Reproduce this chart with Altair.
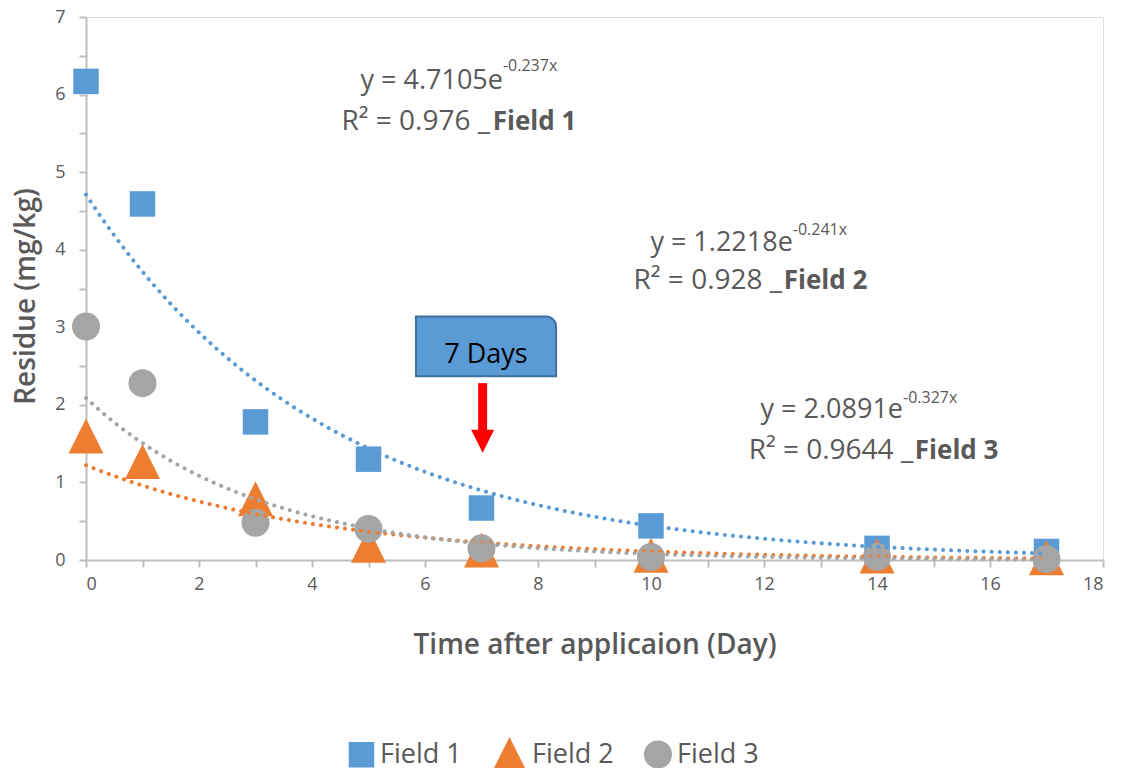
import altair as alt
import pandas as pd

# ---------------- data ----------------
days = [0, 1, 3, 5, 7, 10, 14, 17]
field1 = [6.17, 4.59, 1.78, 1.30, 0.67, 0.44, 0.15, 0.11]
field2 = [1.60, 1.27, 0.79, 0.19, 0.13, 0.06, 0.05, 0.03]
field3 = [3.01, 2.28, 0.48, 0.40, 0.15, 0.04, 0.04, 0.01]
fields = ["Field 1", "Field 2", "Field 3"]
colors = ["#5B9BD5", "#ED7D31", "#A5A5A5"]

# exponential trend lines as printed on the chart: y = a * e^(b x)
fit_a = [4.7105, 1.2218, 2.0891]
fit_b = [-0.237, -0.241, -0.327]
fit_r2 = ["0.976", "0.928", "0.9644"]
fit_a_txt = ["4.7105", "1.2218", "2.0891"]
fit_b_txt = ["-0.237x", "-0.241x", "-0.327x"]

# annotation anchors (data units)
eq_e_end_x = [7.38, 12.51, 14.46]
eq_line1_y = [6.07, 3.98, 1.83]
eq_exp_y = [6.30, 4.19, 2.02]
eq_line2_y = [5.54, 3.49, 1.30]
eq_us_end_x = [7.15, 12.32, 14.64]
eq_field_x = [7.20, 12.35, 14.67]

box_x = [5.84, 8.32]
box_y = [2.37, 3.14]
box_label = "7 Days"
box_label_pos = [7.08, 2.54]
arrow_x = 7.02
arrow_shaft_y = [2.28, 1.64]
arrow_head_y = 1.53

# ---------------- tables ----------------
series = {"Field 1": field1, "Field 2": field2, "Field 3": field3}
pts = pd.DataFrame(
    [{"day": d, "res": v, "field": f} for f in fields for d, v in zip(days, series[f])]
)
coef = pd.DataFrame({"field": fields, "a": fit_a, "b": fit_b})
ann = pd.DataFrame({
    "field": fields,
    "main": ["y = " + t + "e" for t in fit_a_txt],
    "expo": fit_b_txt,
    "line2": ["R\u00b2 = " + r + " _" for r in fit_r2],
    "ex": eq_e_end_x, "y1": eq_line1_y, "ye": eq_exp_y, "y2": eq_line2_y,
    "ux": eq_us_end_x, "fx": eq_field_x,
})

FONT = "Open Sans"
GRAY_TXT = "#595959"
AXIS_GRAY = "#BFBFBF"

xscale = alt.Scale(domain=[0, 18], nice=False, zero=False)
yscale = alt.Scale(domain=[0, 7], nice=False, zero=False)

xaxis = alt.Axis(
    title="Time after applicaion (Day)",
    values=list(range(0, 19)),
    labelExpr="datum.value % 2 === 0 ? datum.label : ''",
    format="~g",
    grid=False, domainColor=AXIS_GRAY, domainWidth=2,
    tickColor=AXIS_GRAY, tickWidth=2, tickSize=7, labelPadding=8,
    labelFontSize=18, labelColor=GRAY_TXT, labelFont=FONT,
    titleFontSize=28, titleFontWeight=600, titleColor=GRAY_TXT, titleFont=FONT,
    titleY=93, titleBaseline="alphabetic",
)
yaxis = alt.Axis(
    title="Residue (mg/kg)",
    values=[i * 0.5 for i in range(15)],
    labelExpr="datum.value % 1 === 0 ? datum.label : ''",
    format="~g",
    grid=False, domainColor=AXIS_GRAY, domainWidth=2,
    tickColor=AXIS_GRAY, tickWidth=2, tickSize=7, labelPadding=14,
    labelFontSize=18, labelColor=GRAY_TXT, labelFont=FONT,
    titleFontSize=28, titleFontWeight=600, titleColor=GRAY_TXT, titleFont=FONT,
    titleX=-52, titleY=279, titleBaseline="alphabetic", titleAngle=270,
)

def X(f):
    return alt.X(f, type="quantitative", scale=xscale, axis=xaxis)

def Y(f):
    return alt.Y(f, type="quantitative", scale=yscale, axis=yaxis)

tri_up = "M0,-1L1,1L-1,1Z"

leg = alt.Legend(
    title=None, orient="none", direction="horizontal",
    legendX=262, legendY=720, symbolSize=650,
    symbolStrokeWidth=0, symbolOpacity=1,
    labelFontSize=27, labelColor=GRAY_TXT, labelFont=FONT,
    labelOffset=5, columnPadding=30, padding=0,
)

points = alt.Chart(pts).mark_point(filled=True, opacity=1, strokeWidth=0).encode(
    x=X("day"),
    y=Y("res"),
    color=alt.Color("field:N", scale=alt.Scale(domain=fields, range=colors), legend=leg),
    shape=alt.Shape("field:N", scale=alt.Scale(domain=fields,
                    range=["square", tri_up, "circle"]), legend=leg),
    size=alt.Size("field:N", scale=alt.Scale(type="ordinal", domain=fields,
                  range=[650, 1225, 784]), legend=None),
)

trend = alt.Chart(coef).transform_calculate(
    xs="sequence(0, 17.001, 0.1)"
).transform_flatten(["xs"]).transform_calculate(
    yv="datum.a * exp(datum.b * datum.xs)"
).mark_line(strokeWidth=4, strokeDash=[0.1, 8], strokeCap="round").encode(
    x=X("xs"),
    y=Y("yv"),
    color=alt.Color("field:N", scale=alt.Scale(domain=fields, range=colors), legend=None),
    detail="field:N",
)

base_ann = alt.Chart(ann)
t_main = base_ann.mark_text(align="right", baseline="alphabetic", fontSize=27,
                            font=FONT, color=GRAY_TXT).encode(
    x=X("ex"), y=Y("y1"), text="main:N")
t_exp = base_ann.mark_text(align="left", baseline="alphabetic", fontSize=16,
                           font=FONT, color=GRAY_TXT).encode(
    x=X("ex"), y=Y("ye"), text="expo:N")
t_l2 = base_ann.mark_text(align="right", baseline="alphabetic", fontSize=28,
                          font=FONT, color=GRAY_TXT).encode(
    x=X("ux"), y=Y("y2"), text="line2:N")
t_field = base_ann.mark_text(align="left", baseline="alphabetic", fontSize=26,
                             font=FONT, color=GRAY_TXT, fontWeight="bold").encode(
    x=X("fx"), y=Y("y2"), text="field:N")

box = alt.Chart(pd.DataFrame({"x0": [box_x[0]], "x1": [box_x[1]],
                              "y0": [box_y[0]], "y1": [box_y[1]]})).mark_rect(
    fill="#5B9BD5", stroke="#41719C", strokeWidth=2, cornerRadiusTopRight=10
).encode(x=X("x0"), x2="x1", y=Y("y0"), y2="y1")

box_text = alt.Chart(pd.DataFrame({"x": [box_label_pos[0]], "y": [box_label_pos[1]],
                                   "t": [box_label]})).mark_text(
    align="center", baseline="alphabetic", fontSize=27, font=FONT, color="#000000"
).encode(x=X("x"), y=Y("y"), text="t:N")

shaft = alt.Chart(pd.DataFrame({"x": [arrow_x], "y0": [arrow_shaft_y[0]],
                                "y1": [arrow_shaft_y[1]]})).mark_rule(
    color="#FF0000", strokeWidth=9
).encode(x=X("x"), y=Y("y0"), y2="y1")

head = alt.Chart(pd.DataFrame({"x": [arrow_x], "y": [arrow_head_y]})).mark_point(
    shape="M-1,-1L1,-1L0,1Z", filled=True, fill="#FF0000", opacity=1,
    strokeWidth=0, size=529
).encode(x=X("x"), y=Y("y"))

chart = alt.layer(
    points, trend, t_main, t_exp, t_l2, t_field, box, box_text, shaft, head
).properties(
    width=1017, height=543,
    autosize=alt.AutoSizeParams(type="none"),
    padding={"left": 78, "top": 9, "right": 10, "bottom": 208},
).configure_view(stroke=None).configure(font=FONT)

chart.save("out.html", embed_options={"renderer": "svg", "actions": False})
